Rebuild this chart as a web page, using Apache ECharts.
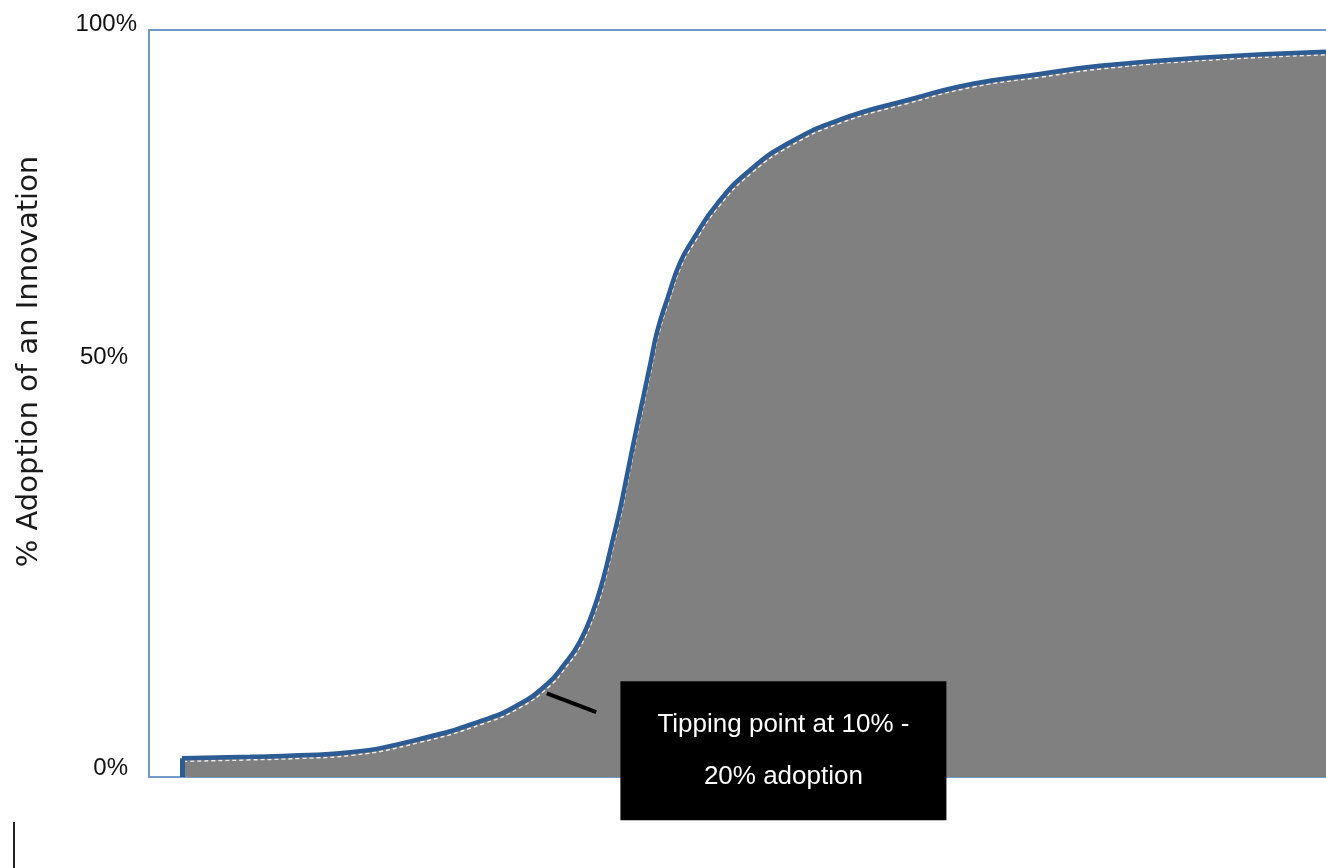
<!DOCTYPE html>
<html>
<head>
<meta charset="utf-8">
<script src="https://cdn.jsdelivr.net/npm/echarts@6/dist/echarts.min.js"></script>
<style>
html,body{margin:0;padding:0;background:#fff;}
#chart{width:1326px;height:868px;}
</style>
</head>
<body>
<div id="chart"></div>
<script>
// Time (arbitrary units) and % adoption
const timeValues = [2.8, 8.6, 12.8, 17.1, 22.8, 28.4, 31.3, 33.8, 35.3, 36.6, 37.7, 38.6, 39.3, 40.0, 40.7, 41.4, 42.0, 42.6, 43.2, 44.1, 45.1, 46.2, 48.3, 51.1, 54.5, 58.7, 64.4, 70.0, 75.7, 80.8, 89.3, 100];
const adoptionValues = [2.5, 2.7, 2.9, 3.3, 5.0, 7.6, 9.6, 12.4, 15.1, 18.1, 22.1, 26.6, 31.1, 35.7, 41.1, 46.5, 50.9, 55.4, 59.8, 64.3, 68.8, 71.9, 76.8, 81.3, 85.0, 88.0, 90.6, 92.8, 94.1, 95.2, 96.3, 97.1];
const yTickValues = [0, 50, 100];
const yTickLabels = ['0%', '50%', '100%'];
const axisTitle = '% Adoption of an Innovation';
const annotationText = ['Tipping point at 10% -', '20% adoption'];
const annotationPointer = [[33.8, 11.2], [38.0, 8.7]];
const annotationBoxAt = [53.9, 3.5];

const curve = timeValues.map((t, i) => [t, adoptionValues[i]]);
const axisBlue = '#7399c9';
const smoothness = 0.5;

const chart = echarts.init(document.getElementById('chart'), null, {renderer: 'canvas'});
chart.setOption({
  animation: false,
  backgroundColor: '#ffffff',
  grid: {left: 149, right: 0, top: 30, bottom: 91, containLabel: false, outerBoundsMode: 'none'},
  xAxis: [
    {type: 'value', min: 0, max: 100, position: 'bottom',
     axisLine: {show: true, lineStyle: {color: axisBlue, width: 2}},
     axisTick: {show: false}, axisLabel: {show: false}, splitLine: {show: false}},
    {type: 'value', min: 0, max: 100, position: 'top',
     axisLine: {show: true, lineStyle: {color: axisBlue, width: 2}},
     axisTick: {show: false}, axisLabel: {show: false}, splitLine: {show: false}}
  ],
  yAxis: {
    type: 'value', min: 0, max: 100, interval: 50,
    name: axisTitle, nameLocation: 'middle', nameRotate: 90, nameGap: 105,
    nameTextStyle: {fontFamily: 'DejaVu Sans', fontSize: 29, color: '#1a1a1a', padding: [0, 0, 0, 84]},
    axisLine: {show: true, lineStyle: {color: axisBlue, width: 2}},
    axisTick: {show: false}, splitLine: {show: false},
    axisLabel: {
      margin: 12,
      formatter: function (v) {
        const lbl = yTickLabels[yTickValues.indexOf(v)];
        if (v === 100) return '{t|' + lbl + '}';
        if (v === 50) return '{m|' + lbl + '}';
        return '{b|' + lbl + '}';
      },
      rich: {
        t: {fontFamily: 'Liberation Sans', fontSize: 24, color: '#111', padding: [0, 0, 12, 0]},
        m: {fontFamily: 'Liberation Sans', fontSize: 24, color: '#111', padding: [0, 9, 92, 0]},
        b: {fontFamily: 'Liberation Sans', fontSize: 24, color: '#111', padding: [0, 9, 18, 0]}
      }
    }
  },
  series: [
    {
      type: 'line', data: curve, smooth: smoothness,
      symbol: 'none', clip: false, z: 2,
      lineStyle: {width: 0, color: '#808080'},
      areaStyle: {color: '#808080', opacity: 1},
      markLine: {
        silent: true, symbol: ['none', 'none'], animation: false,
        label: {show: false},
        data: [
          [{coord: annotationPointer[0], lineStyle: {color: '#000', width: 4, type: 'solid'}},
           {coord: annotationPointer[1]}],
          [{coord: [timeValues[0], 0], lineStyle: {color: '#2d5b93', width: 5, type: 'solid'}},
           {coord: [timeValues[0], adoptionValues[0]]}]
        ]
      },
      markPoint: {
        silent: true, animation: false,
        data: [{
          coord: annotationBoxAt, symbol: 'rect', symbolSize: [326, 139],
          itemStyle: {color: '#000'},
          label: {show: true, position: 'inside', formatter: annotationText.join('\n'),
            color: '#fff', fontFamily: 'Liberation Sans', fontSize: 26, lineHeight: 52, align: 'center'}
        }]
      }
    },
    {
      type: 'line', data: curve, smooth: smoothness, symbol: 'none', z: 3,
      lineStyle: {width: 1.5, color: '#ffffff', type: [4, 3],
        shadowColor: 'rgba(255,255,255,0.85)', shadowBlur: 0.5, shadowOffsetX: 1.5, shadowOffsetY: 3}
    },
    {
      type: 'line', data: curve, smooth: smoothness, symbol: 'none', z: 4,
      lineStyle: {width: 4.5, color: '#2d5b93'}
    }
  ],
  graphic: [
    {type: 'line', shape: {x1: 14, y1: 822, x2: 14, y2: 868}, style: {stroke: '#222', lineWidth: 2}, silent: true}
  ]
});
</script>
</body>
</html>
